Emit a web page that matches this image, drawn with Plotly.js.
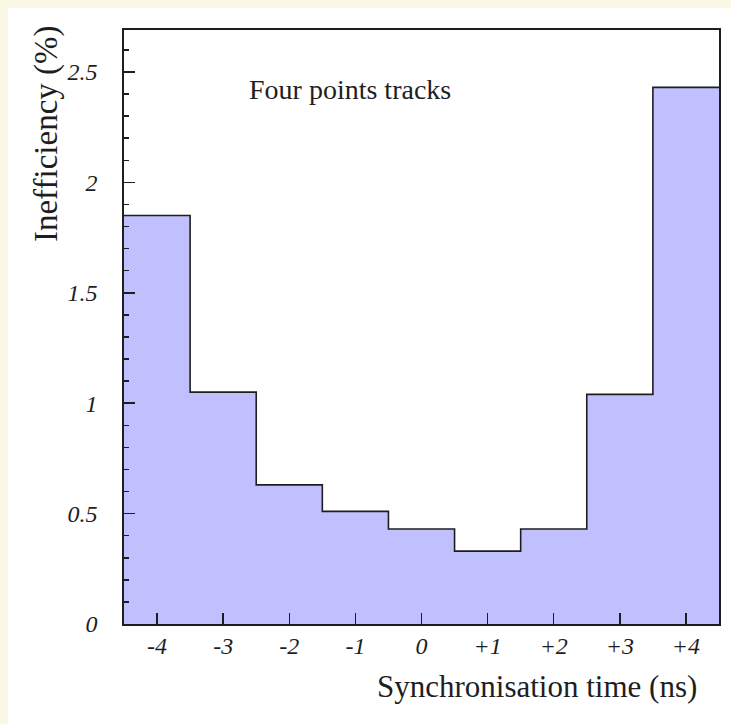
<!DOCTYPE html>
<html>
<head>
<meta charset="utf-8">
<script src="https://cdn.plot.ly/plotly-3.0.1.min.js"></script>
<style>
  html, body { margin: 0; padding: 0; background: #f9f9e6; }
  #chart { position: absolute; left: 8px; top: 8px; width: 723px; height: 716px; background: #ffffff; }
</style>
</head>
<body>
<div id="chart"></div>
<script>
// Bin centres of the synchronisation time scan (ns)
const binCenters = [-4, -3, -2, -1, 0, 1, 2, 3, 4];
// Inefficiency per bin (%)
const inefficiency = [1.85, 1.05, 0.63, 0.51, 0.43, 0.33, 0.43, 1.04, 2.43];
// Axis tick labels
const xTickLabels = ['-4', '-3', '-2', '-1', '0', '+1', '+2', '+3', '+4'];
const yTickValues = [0, 0.5, 1, 1.5, 2, 2.5];
const yTickLabels = ['0', '0.5', '1', '1.5', '2', '2.5'];

const binWidth = 1;
// Histogram outline: left bin edges followed by the last right edge
const edges = binCenters.map(c => c - binWidth / 2).concat([binCenters[binCenters.length - 1] + binWidth / 2]);
const stepY = inefficiency.concat([inefficiency[inefficiency.length - 1]]);

const serif = 'Liberation Serif, Times New Roman, serif';
const ink = '#1e1e1e';

const trace = {
  type: 'scatter',
  mode: 'lines',
  x: edges,
  y: stepY,
  line: { shape: 'hv', color: ink, width: 1.6 },
  fill: 'tozeroy',
  fillcolor: '#c0c0ff',
  hoverinfo: 'x+y',
  showlegend: false
};

const layout = {
  width: 723,
  height: 716,
  margin: { l: 116, r: 12, t: 22, b: 100 },
  paper_bgcolor: '#ffffff',
  plot_bgcolor: '#ffffff',
  font: { family: serif, color: ink },
  showlegend: false,
  xaxis: {
    range: [-4.5, 4.5],
    tickmode: 'array',
    tickvals: binCenters,
    ticktext: xTickLabels,
    ticks: 'inside',
    ticklen: 11,
    tickwidth: 1.5,
    tickcolor: ink,
    showline: true,
    linecolor: ink,
    linewidth: 1.6,
    mirror: true,
    showgrid: false,
    zeroline: false,
    ticklabelstandoff: 0,
    tickfont: { family: serif, size: 24, style: 'italic', color: ink }
  },
  yaxis: {
    range: [0, 2.69],
    tickmode: 'array',
    tickvals: yTickValues,
    ticktext: yTickLabels,
    ticks: 'inside',
    ticklen: 11,
    tickwidth: 1.5,
    tickcolor: ink,
    minor: { dtick: 0.1, ticks: 'inside', ticklen: 5, tickwidth: 1.5, tickcolor: ink, showgrid: false },
    showline: true,
    linecolor: ink,
    linewidth: 1.6,
    mirror: true,
    showgrid: false,
    zeroline: false,
    ticklabelstandoff: 20,
    tickfont: { family: serif, size: 24, style: 'italic', color: ink }
  },
  annotations: [
    {
      text: 'Four points tracks',
      xref: 'paper', yref: 'paper',
      x: 0.207, y: 0.90,
      xanchor: 'left', yanchor: 'middle',
      showarrow: false,
      font: { family: serif, size: 28, color: ink }
    },
    {
      text: 'Synchronisation time (ns)',
      xref: 'paper', yref: 'paper',
      x: 0.967, y: -0.105,
      xanchor: 'right', yanchor: 'middle',
      showarrow: false,
      font: { family: serif, size: 31, color: ink }
    },
    {
      text: 'Inefficiency (%)',
      xref: 'paper', yref: 'paper',
      x: -0.13, y: 1.012,
      xanchor: 'center', yanchor: 'top',
      textangle: -90,
      showarrow: false,
      font: { family: serif, size: 33, color: ink }
    }
  ]
};

Plotly.newPlot('chart', [trace], layout, { displayModeBar: false, staticPlot: true });
</script>
</body>
</html>
